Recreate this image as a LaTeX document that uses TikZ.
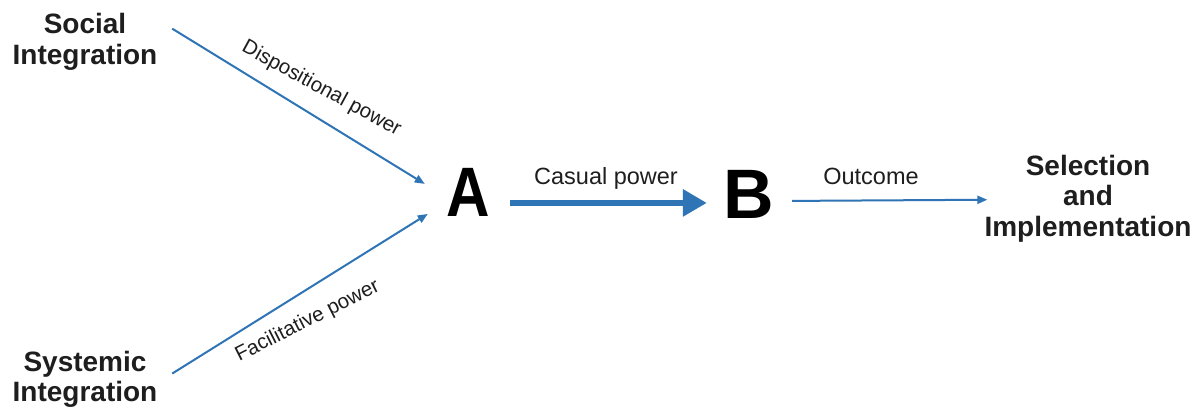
\documentclass[tikz,border=0pt]{standalone}
\usepackage{fontspec}
\setmainfont{Liberation Sans}
\usetikzlibrary{arrows.meta,calc}
\definecolor{linkblue}{RGB}{47,117,181}
\definecolor{inkgray}{RGB}{30,30,30}
\tikzset{
  concept/.style={inner sep=0pt, align=center, text=inkgray,
    font=\fontsize{28}{30.5}\selectfont\bfseries},
  actor/.style={inner sep=0pt, text=black,
    font=\fontsize{70}{70}\selectfont\bfseries},
  powerlabel/.style={inner sep=0pt, text=inkgray,
    font=\fontsize{20.5}{22}\selectfont},
  flowlabel/.style={inner sep=0pt, text=inkgray,
    font=\fontsize{23.5}{26}\selectfont},
  thinarrow/.style={draw=linkblue, line width=2pt,
    -{Triangle[length=10pt,width=8pt]}},
  thickarrow/.style={draw=linkblue, line width=6.5pt,
    -{Triangle[length=24pt,width=26pt]}}
}
\begin{document}
\begin{tikzpicture}[x=1pt,y=1pt]
  \useasboundingbox[fill=white] (0,0) rectangle (1202,412);

  % source concepts
  \node[concept, anchor=north] (SI) at (85,398.7) {Social\\Integration};
  \node[concept, anchor=north] (SY) at (85,61) {Systemic\\Integration};

  % agents
  \node[actor, anchor=base] (A) at (468,195.3) {\scalebox{0.86}[1]{A}};
  \node[actor, anchor=base] (B) at (749,193.7) {B};

  % result
  \node[concept, anchor=north] (SEL) at (1088,257) {Selection\\and\\Implementation};

  % connectors
  \draw[thinarrow] ([shift={(14.7,13.2)}]SI.east) -- ([shift={(-21.3,8.7)}]A.west);
  \draw[thinarrow] ([shift={(14.7,6)}]SY.east) -- ([shift={(-18.3,-21.3)}]A.west);
  \draw[thickarrow] ([shift={(20.3,-10.3)}]A.east) -- ([shift={(-16.7,-8.7)}]B.west);
  \draw[thinarrow] ([shift={(17.7,-6.7)}]B.east) -- ([shift={(3,-1)}]SEL.west);

  % connector labels
  \node[powerlabel, anchor=base, rotate=-28.6] (dp) at (319,318.5) {Dispositional power};
  \node[powerlabel, anchor=base, rotate=26.8] (fp) at (310,86) {Facilitative power};
  \node[flowlabel, anchor=base] (cp) at (606,227) {Casual power};
  \node[flowlabel, anchor=base] (oc) at (871,227) {Outcome};
\end{tikzpicture}
\end{document}
